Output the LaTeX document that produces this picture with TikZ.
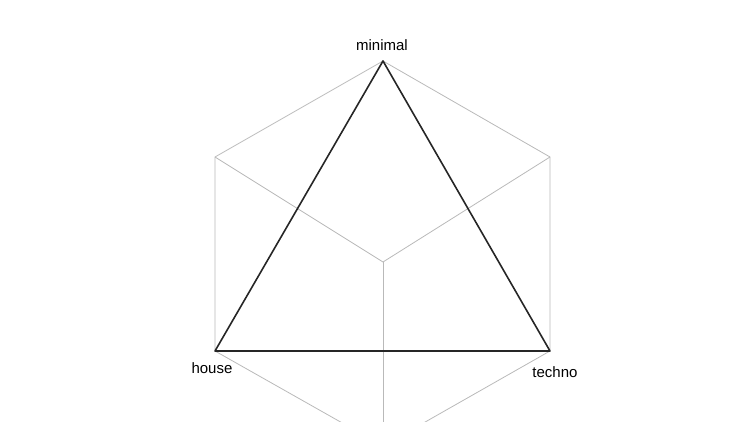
\documentclass[tikz,border=0pt]{standalone}
\usepackage{fontspec}
\setmainfont{Liberation Sans}
\begin{document}
\begin{tikzpicture}[x=1pt,y=-1pt,
    cubeline/.style={gray!55, line width=0.8pt},
    triline/.style={black!85, line width=1.6pt, line join=round},
    axislabel/.style={font=\fontsize{15}{18}\selectfont, inner sep=0pt, anchor=base}]
    \clip (0,0) rectangle (750,422);
    % Hexagon corners (cube outline)
    \coordinate (top) at (383,61);
    \coordinate (upleft) at (215,157);
    \coordinate (upright) at (550,157);
    \coordinate (lowleft) at (215,351);
    \coordinate (lowright) at (550,351);
    \coordinate (bottom) at (383,446);
    \coordinate (centre) at (383,262);
    
    % Grey cube edges
    \draw[cubeline] (lowleft) -- (upleft) -- (top) -- (upright) -- (lowright) -- (bottom) -- cycle;
    \draw[cubeline] (upleft) -- (centre) -- (upright);
    \draw[cubeline] (centre) -- (bottom);
    
    % Triangle
    \draw[triline] (top) -- (lowleft) -- (lowright) -- cycle;
    
    % Labels
    \node[axislabel] (minimal) at (382,51) {minimal};
    \node[axislabel] (house) at (212,373) {house};
    \node[axislabel] (techno) at (555,377) {techno};
\end{tikzpicture}
\end{document}
